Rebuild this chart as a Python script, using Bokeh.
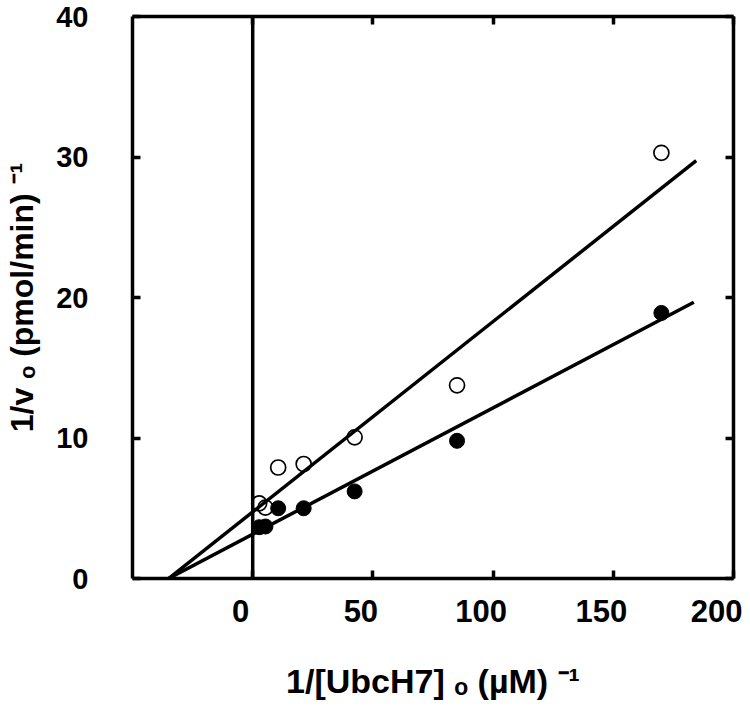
from bokeh.plotting import figure
from bokeh.models import LinearAxis, FixedTicker, Span, Range1d
from bokeh.embed import file_html
from bokeh.resources import INLINE

# ---- data ----
inv_s = [2.7, 5.3, 10.6, 21.2, 42.4, 85.0, 170.0]          # 1/[UbcH7]o (uM)^-1
open_inv_v = [5.35, 5.05, 7.9, 8.15, 10.05, 13.75, 30.3]     # open circles, 1/vo
filled_inv_v = [3.65, 3.7, 5.0, 5.0, 6.2, 9.8, 18.9]         # filled circles, 1/vo

# fitted lines (slope, intercept, x extent)
open_fit_slope, open_fit_intercept = 0.1355, 4.74
filled_fit_slope, filled_fit_intercept = 0.0900, 3.15
open_fit_x = [-35.0, 184.5]
filled_fit_x = [-35.0, 183.5]

x_ticks = [0, 50, 100, 150, 200]
y_ticks = [0, 10, 20, 30, 40]
x_range = (-50, 200)
y_range = (0, 40)
x_label_shift = 5  # tick labels sit slightly left of their ticks in the original

FONT = "Liberation Sans"
LW = 3.5

p = figure(frame_width=601, frame_height=562,
           x_range=Range1d(*x_range), y_range=Range1d(*y_range),
           output_backend="svg", toolbar_location=None,
           x_axis_location=None, y_axis_location=None,
           min_border_left=132, min_border_right=9,
           min_border_top=16, min_border_bottom=126)
p.grid.visible = False
p.outline_line_color = None
p.background_fill_color = "white"
p.extra_x_ranges = {"xlab": Range1d(x_range[0] + x_label_shift, x_range[1] + x_label_shift)}


def tick_axis(ax, ticks):
    ax.ticker = FixedTicker(ticks=ticks)
    ax.axis_line_width = LW
    ax.axis_line_color = "black"
    ax.major_tick_line_width = LW
    ax.major_tick_in = 8
    ax.major_tick_out = 0
    ax.minor_tick_line_color = None
    ax.major_label_text_font = FONT
    ax.major_label_text_font_style = "bold"
    ax.major_label_text_color = "black"
    ax.axis_label_text_font = FONT
    ax.axis_label_text_font_style = "bold"
    ax.axis_label_text_color = "black"


def hide_labels(ax, ticks):
    ax.major_label_overrides = {t: "" for t in ticks}
    ax.major_label_text_font_size = "1px"
    ax.major_label_standoff = 0


# bottom: ticks on the main range
xb = LinearAxis()
tick_axis(xb, x_ticks)
hide_labels(xb, x_ticks)
p.add_layout(xb, "below")

# bottom: tick labels (shifted range) and axis title
xl = LinearAxis(x_range_name="xlab", axis_label="1/[UbcH7] \u2092 (\u00b5M) \u207b\u00b9")
tick_axis(xl, x_ticks)
xl.axis_line_color = None
xl.major_tick_line_color = None
xl.major_label_text_font_size = "31px"
xl.major_label_standoff = 21
xl.axis_label_text_font_size = "34px"
xl.axis_label_standoff = 37
p.add_layout(xl, "below")

# left: ticks, labels and axis title
yl = LinearAxis(axis_label="1/v \u2092 (pmol/min) \u207b\u00b9")
tick_axis(yl, y_ticks)
yl.major_label_text_font_size = "29px"
yl.major_label_standoff = 44
yl.axis_label_text_font_size = "32px"
yl.axis_label_standoff = 13
p.add_layout(yl, "left")

xt = LinearAxis()
tick_axis(xt, x_ticks)
hide_labels(xt, x_ticks)
p.add_layout(xt, "above")

yr = LinearAxis()
tick_axis(yr, y_ticks)
hide_labels(yr, y_ticks)
p.add_layout(yr, "right")

# vertical line at x = 0
p.add_layout(Span(location=0, dimension="height", line_color="black", line_width=LW))

# fitted lines
p.line(open_fit_x, [open_fit_slope * x + open_fit_intercept for x in open_fit_x],
       line_color="black", line_width=LW)
p.line(filled_fit_x, [filled_fit_slope * x + filled_fit_intercept for x in filled_fit_x],
       line_color="black", line_width=LW)

# data points
p.scatter(inv_s, open_inv_v, marker="circle", size=15, fill_color=None,
          line_color="black", line_width=1.7)
p.scatter(inv_s, filled_inv_v, marker="circle", size=15, fill_color="black",
          line_color="black")

open("out.html", "w").write(file_html(p, INLINE))
